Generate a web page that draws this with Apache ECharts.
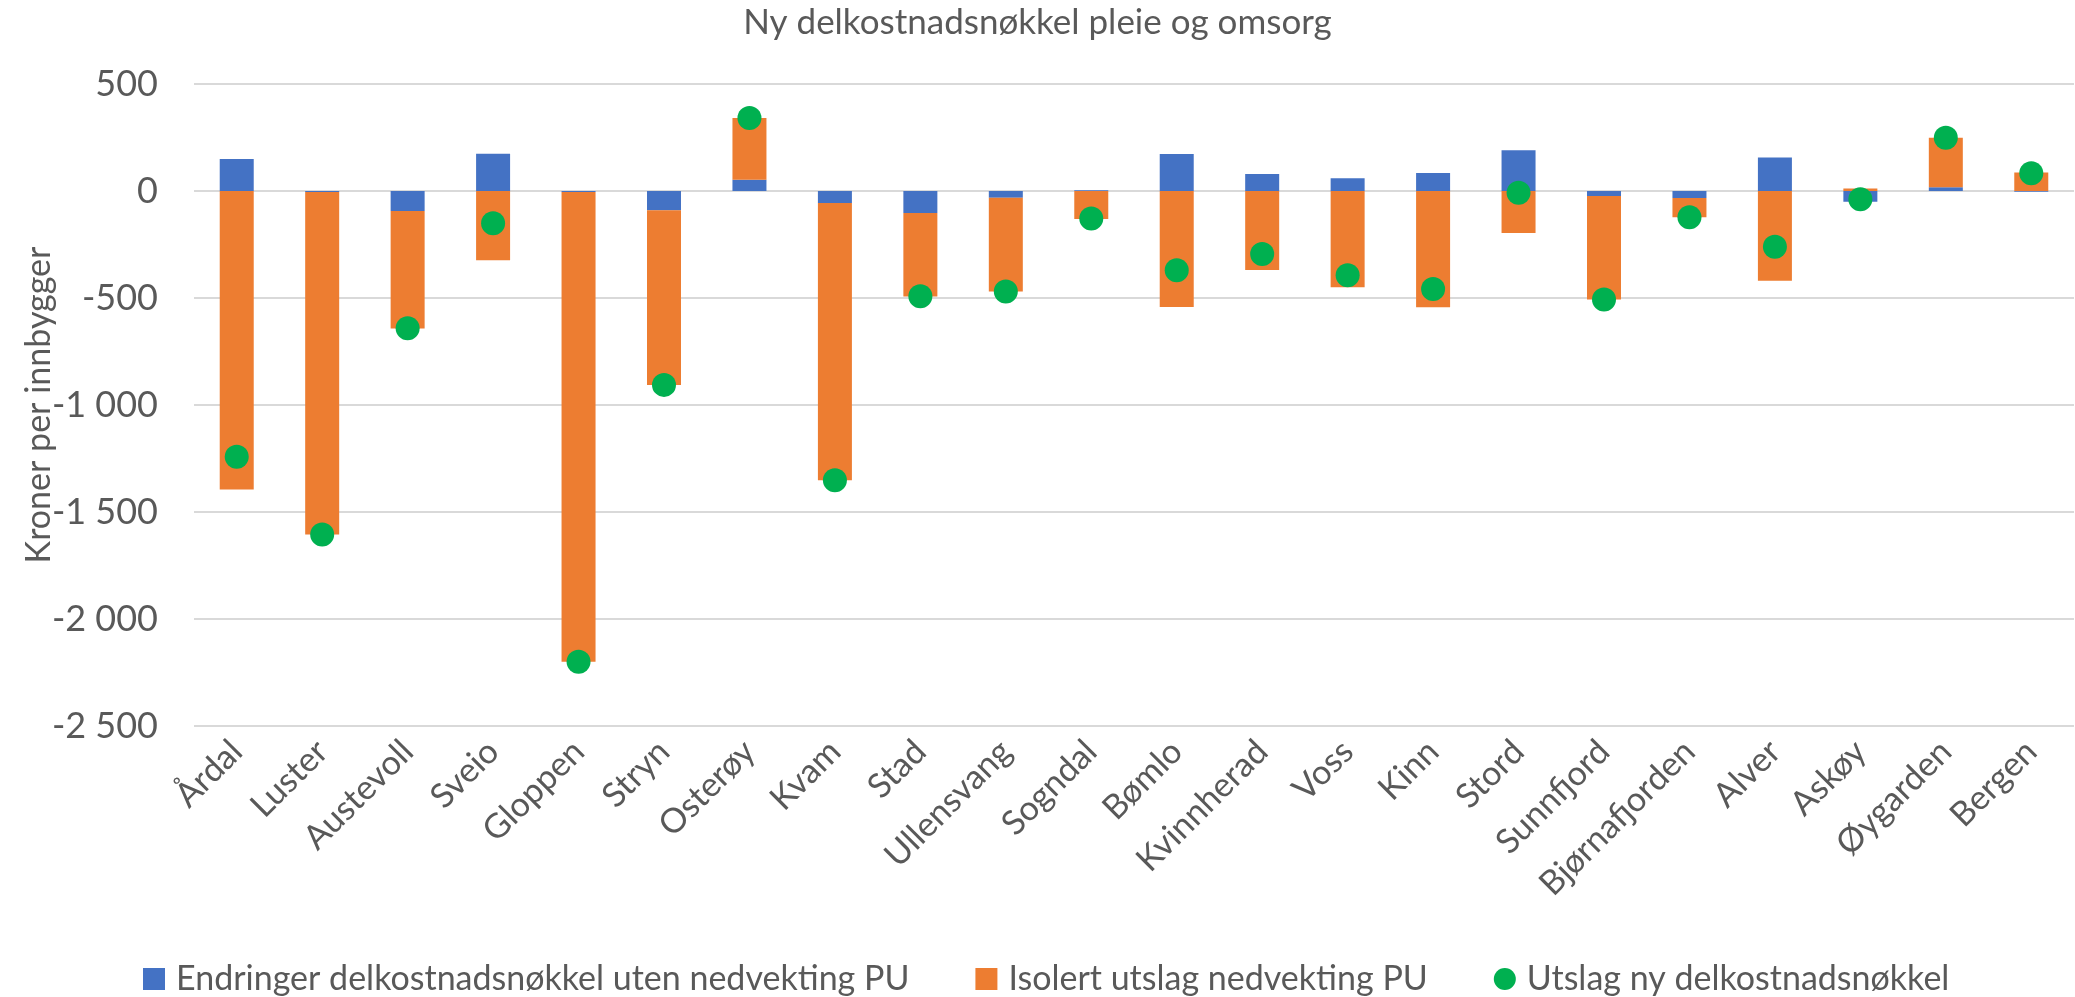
<!DOCTYPE html>
<html>
<head>
    <meta charset="utf-8">
    <title>Ny delkostnadsnøkkel pleie og omsorg</title>
    <script src="https://cdn.jsdelivr.net/npm/echarts@6/dist/echarts.min.js"></script>
    <style>
        *{margin:0;padding:0}
        #main {
            width: 2075px;
            height: 997px;
        }
    </style>
</head>
<body>
    <div id="main"></div>
    <script type="text/javascript">
        // kommuner
        var kommuner = ['Årdal', 'Luster', 'Austevoll', 'Sveio', 'Gloppen', 'Stryn', 'Osterøy', 'Kvam', 'Stad',
            'Ullensvang', 'Sogndal', 'Bømlo', 'Kvinnherad', 'Voss', 'Kinn', 'Stord', 'Sunnfjord',
            'Bjørnafjorden', 'Alver', 'Askøy', 'Øygarden', 'Bergen'];
        // Endringer delkostnadsnøkkel uten nedvekting PU
        var endringer = [150, -5, -93, 174, -5, -90, 53, -56, -103, -31, 3, 173, 79, 59, 84, 190, -23, -33, 156, -50, 17, -3];
        // Isolert utslag nedvekting PU
        var isolert = [-1395, -1600, -550, -324, -2195, -816, 288, -1296, -390, -439, -131, -542, -369, -450, -543, -196, -484, -90, -419, 12, 232, 87];
        // Utslag ny delkostnadsnøkkel
        var utslag = [-1242, -1605, -641, -151, -2200, -906, 341, -1352, -492, -470, -128, -370, -294, -394, -458, -8, -507, -123, -261, -39, 249, 83];

        var fontFam = 'Lato';
        var grå = '#595959';

        var myChart = echarts.init(document.getElementById('main'));

        var option = {
            title: {
                text: 'Ny delkostnadsnøkkel pleie og omsorg',
                left: 'center',
                top: 2,
                padding: 0,
                textStyle: {
                    fontFamily: fontFam,
                    fontSize: 35,
                    fontWeight: 'normal',
                    color: grå,
                    lineHeight: 42
                }
            },
            grid: {
                left: 194,
                right: 1,
                top: 84,
                bottom: 271,
                containLabel: false
            },
            legend: {
                left: 143,
                top: 958,
                padding: 0,
                itemGap: 66,
                itemWidth: 22,
                itemHeight: 22,
                textStyle: {
                    fontFamily: fontFam,
                    fontSize: 34,
                    color: grå,
                    lineHeight: 42,
                    padding: [0, 0, 0, 6]
                },
                data: [
                    { name: 'Endringer delkostnadsnøkkel uten nedvekting PU', icon: 'rect' },
                    { name: 'Isolert utslag nedvekting PU', icon: 'rect' },
                    { name: 'Utslag ny delkostnadsnøkkel', icon: 'circle' }
                ]
            },
            xAxis: {
                type: 'category',
                data: kommuner,
                axisLine: { show: false, onZero: false },
                axisTick: { show: false },
                axisLabel: {
                    rotate: 45,
                    margin: 20,
                    interval: 0,
                    fontFamily: fontFam,
                    fontSize: 34,
                    color: grå
                }
            },
            yAxis: {
                type: 'value',
                min: -2500,
                max: 500,
                interval: 500,
                name: 'Kroner per innbygger',
                nameLocation: 'middle',
                nameGap: 138,
                nameMoveOverlap: false,
                nameTextStyle: {
                    fontFamily: fontFam,
                    fontSize: 34,
                    color: grå
                },
                axisLine: { show: false },
                axisTick: { show: false },
                splitLine: { lineStyle: { color: '#d9d9d9', width: 2 } },
                axisLabel: {
                    margin: 36,
                    fontFamily: fontFam,
                    fontSize: 36,
                    color: grå,
                    formatter: function (v) {
                        var s = String(Math.abs(v));
                        if (s.length > 3) s = s.slice(0, s.length - 3) + ' ' + s.slice(-3);
                        return (v < 0 ? '-' : '') + s;
                    }
                }
            },
            series: [
                {
                    name: 'Endringer delkostnadsnøkkel uten nedvekting PU',
                    type: 'bar',
                    stack: 'sum',
                    barWidth: 34,
                    itemStyle: { color: '#4472c4' },
                    data: endringer
                },
                {
                    name: 'Isolert utslag nedvekting PU',
                    type: 'bar',
                    stack: 'sum',
                    barWidth: 34,
                    itemStyle: { color: '#ed7d31' },
                    data: isolert
                },
                {
                    name: 'Utslag ny delkostnadsnøkkel',
                    type: 'scatter',
                    symbol: 'circle',
                    symbolSize: 24,
                    itemStyle: { color: '#00b050', opacity: 1 },
                    z: 5,
                    data: utslag
                }
            ]
        };

        myChart.setOption(option);
    </script>
</body>
</html>
